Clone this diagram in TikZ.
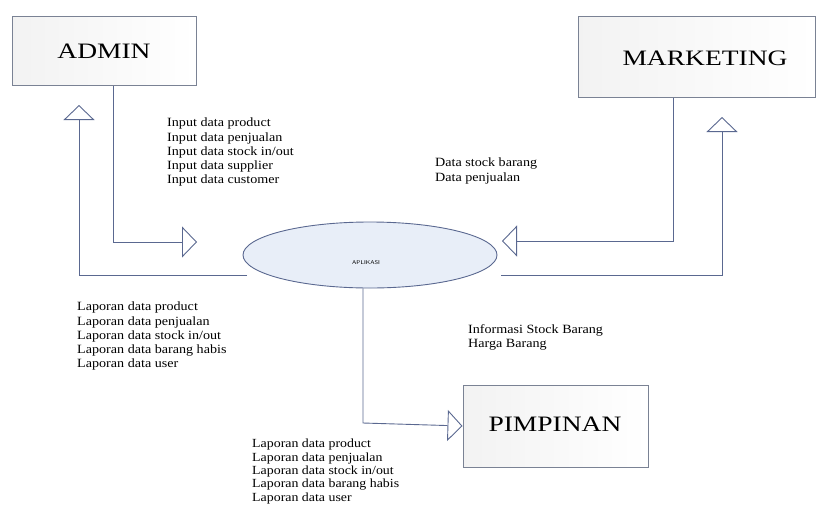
\documentclass[tikz,border=0pt]{standalone}
\usepackage{fontspec}
\setmainfont{Liberation Serif}
\usetikzlibrary{arrows.meta,shapes.geometric}
\definecolor{linec}{HTML}{5A6890}
\definecolor{boxc}{HTML}{7A8294}
\definecolor{ellfill}{HTML}{E8EEF8}
\begin{document}
\begin{tikzpicture}[x=1pt,y=-1pt,
  actor/.style={draw=boxc,line width=1pt,rectangle,left color=gray!10,right color=white,inner sep=0pt},
  biglabel/.style={font=\fontsize{22}{22}\selectfont,xscale=1.25},
  flow/.style={draw=linec,line width=0.9pt,-{Triangle[open,length=15pt,width=31pt,fill=white]}},
  info/.style={anchor=north west,inner sep=0pt,align=left,font=\fontsize{12.6}{14.2}\selectfont,xscale=1.12}]
\useasboundingbox (0,0) rectangle (820,504);
% entities
\node[actor,minimum width=184pt,minimum height=69pt] (admin) at (104,50.5) {};
\node[biglabel] (adminl) at (104,51) {ADMIN};
\node[actor,minimum width=237pt,minimum height=81pt] (mkt) at (696.5,56.5) {};
\node[biglabel] (mktl) at (705,58) {MARKETING};
\node[actor,minimum width=185pt,minimum height=82pt] (pim) at (555.5,426) {};
\node[biglabel] (piml) at (555,424) {PIMPINAN};
\node[ellipse,draw=linec,line width=0.9pt,fill=ellfill,minimum width=254pt,minimum height=66pt,inner sep=0pt] (app) at (370,255) {};
\node[font=\sffamily\fontsize{5.5}{6}\selectfont,xscale=1.1] (appl) at (366,263) {APLIKASI};
% free ends
\coordinate (t1) at (197,242);
\coordinate (c1) at (113,242);
\coordinate (s2) at (247,275);
\coordinate (c2) at (79,275);
\coordinate (t2) at (79,105);
\coordinate (t3) at (502,241);
\coordinate (c3) at (673,241);
\coordinate (s4) at (501,275);
\coordinate (c4) at (722,275);
\coordinate (t4) at (722,117);
\coordinate (c5) at (363,423);
% connectors
\draw[flow] (admin.south -| c1) -- (c1) -- (t1);
\draw[flow] (s2) -- (c2) -- (t2);
\draw[flow] (mkt.south -| c3) -- (c3) -- (t3);
\draw[flow] (s4) -- (c4) -- (t4);
\draw[flow] (app.south -| c5) -- (c5) -- (pim.west);
% texts
\node[info] (tin) at (167,118) {Input data product\\Input data penjualan\\Input data stock in/out\\Input data supplier\\Input data customer};
\node[info] (tmk) at (435,158) {Data stock barang\\Data penjualan};
\node[info] (tlap) at (77,302) {Laporan data product\\Laporan data penjualan\\Laporan data stock in/out\\Laporan data barang habis\\Laporan data user};
\node[info] (tinf) at (468,324) {Informasi Stock Barang\\Harga Barang};
\node[info,font=\fontsize{12.4}{13.3}\selectfont] (tbot) at (252,439) {Laporan data product\\Laporan data penjualan\\Laporan data stock in/out\\Laporan data barang habis\\Laporan data user};
\end{tikzpicture}
\end{document}
